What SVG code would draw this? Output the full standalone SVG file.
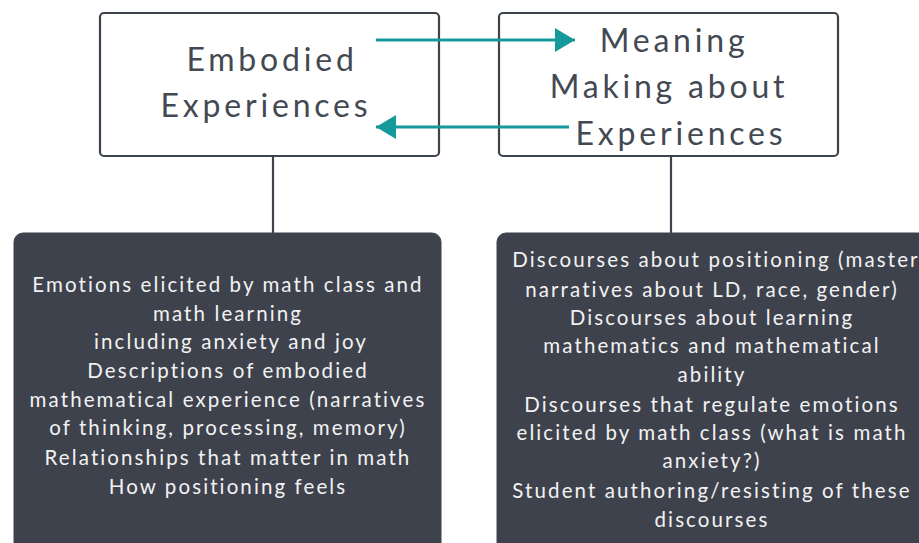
<svg xmlns="http://www.w3.org/2000/svg" width="919" height="543" viewBox="0 0 919 543">
  <defs>
    <style>
      .top { fill: #ffffff; stroke: #3e444e; stroke-width: 2.2; }
      .title { font-family: Lato, "Open Sans", "Liberation Sans", sans-serif; font-size: 32px; letter-spacing: 3.8px; fill: #434952; text-anchor: middle; }
      .panel { fill: #3e424d; stroke: #3e424d; }
      .body { font-family: Lato, "Open Sans", "Liberation Sans", sans-serif; font-size: 20.5px; letter-spacing: 2.1px; fill: #f2f2f2; text-anchor: middle; }
      .stem { stroke: #3e444e; stroke-width: 2.2; fill: none; }
      .flow { stroke: #16999b; stroke-width: 3; fill: none; }
    </style>
    <marker id="tip" viewBox="0 0 20 24" refX="20" refY="12" markerWidth="20" markerHeight="24" markerUnits="userSpaceOnUse" orient="auto">
      <path d="M0,0 L20,12 L0,24 z" fill="#16999b"/>
    </marker>
  </defs>

  <g id="connectors">
    <line class="stem" x1="273" y1="156" x2="273" y2="234"/>
    <line class="stem" x1="671" y1="156" x2="671" y2="234"/>
  </g>

  <g id="embodied">
    <rect class="top" x="100" y="13" width="339" height="143" rx="4"/>
    <text class="title" x="272" y="71">Embodied</text>
    <text class="title" x="266" y="117">Experiences</text>
  </g>

  <g id="meaning">
    <rect class="top" x="499" y="13" width="339" height="143" rx="4"/>
    <text class="title" x="674" y="52">Meaning</text>
    <text class="title" x="669" y="98">Making about</text>
    <text class="title" x="681" y="145">Experiences</text>
  </g>

  <g id="arrows">
    <line class="flow" x1="376" y1="40" x2="575" y2="40" marker-end="url(#tip)"/>
    <line class="flow" x1="569" y1="127" x2="376" y2="127" marker-end="url(#tip)"/>
  </g>

  <g id="embodied-detail">
    <rect class="panel" x="14" y="233" width="427" height="330" rx="9"/>
    <text class="body" x="228" y="292">Emotions elicited by math class and</text>
    <text class="body" x="228" y="321">math learning</text>
    <text class="body" x="231" y="349">including anxiety and joy</text>
    <text class="body" x="228" y="378">Descriptions of embodied</text>
    <text class="body" x="228" y="407">mathematical experience (narratives</text>
    <text class="body" x="228" y="435">of thinking, processing, memory)</text>
    <text class="body" x="228" y="465">Relationships that matter in math</text>
    <text class="body" x="228" y="494">How positioning feels</text>
  </g>

  <g id="meaning-detail">
    <rect class="panel" x="497" y="233" width="440" height="330" rx="9"/>
    <text class="body" x="716" y="267">Discourses about positioning (master</text>
    <text class="body" x="712" y="297">narratives about LD, race, gender)</text>
    <text class="body" x="712" y="325">Discourses about learning</text>
    <text class="body" x="712" y="353">mathematics and mathematical</text>
    <text class="body" x="712" y="382">ability</text>
    <text class="body" x="712" y="412">Discourses that regulate emotions</text>
    <text class="body" x="712" y="440">elicited by math class (what is math</text>
    <text class="body" x="712" y="468">anxiety?)</text>
    <text class="body" x="712" y="498">Student authoring/resisting of these</text>
    <text class="body" x="712" y="527">discourses</text>
  </g>
</svg>
